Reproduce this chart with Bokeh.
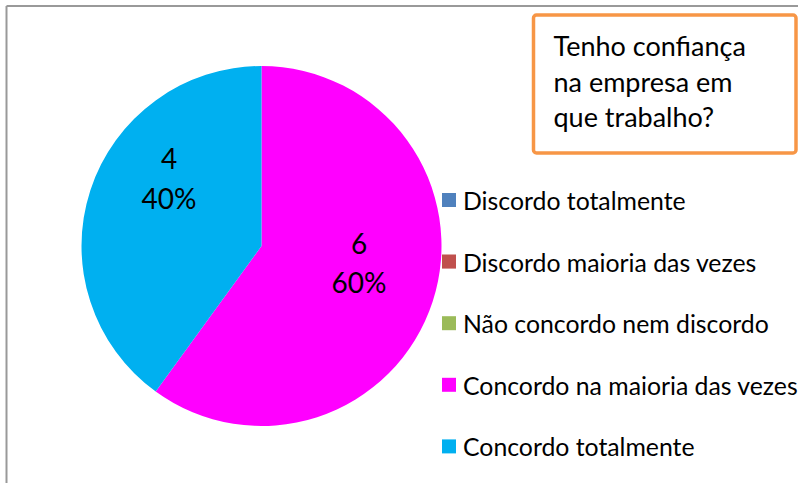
import numpy as np
from bokeh.plotting import figure
from bokeh.models import Range1d, ColumnDataSource
from bokeh.core.properties import value
from bokeh.embed import file_html
from bokeh.resources import INLINE

# ---- data ----
categories = ["Discordo totalmente", "Discordo maioria das vezes",
              "Não concordo nem discordo", "Concordo na maioria das vezes",
              "Concordo totalmente"]
counts = [0, 0, 0, 6, 4]
colors = ["#4F81BD", "#C0504D", "#9BBB59", "#FF00FF", "#00B0F0"]
title_lines = ["Tenho confiança", "na empresa em", "que trabalho?"]

FONT = value("Lato")
W, H = 798, 483


def Y(py):
    return H - py


p = figure(width=W, height=H, x_range=Range1d(0, W), y_range=Range1d(0, H),
           output_backend="svg", toolbar_location=None,
           x_axis_location=None, y_axis_location=None, min_border=0)
p.grid.visible = False
p.outline_line_color = None
p.background_fill_color = "white"
p.border_fill_color = "white"

# chart area border (left and top)
p.segment(x0=[6, 6], y0=[Y(5.5), Y(5.5)], x1=[6, W], y1=[Y(H), Y(5.5)],
          line_color="#999999", line_width=2)

# ---- pie ----
cx, cy, r = 261, Y(245.5), 180
total = sum(counts)
fr = np.array(counts, dtype=float) / total
cum = np.cumsum(fr)
end = np.pi / 2 - 2 * np.pi * cum
start = end + 2 * np.pi * fr
mask = fr > 0
src = ColumnDataSource(dict(start=start[mask], end=end[mask],
                            color=list(np.array(colors)[mask])))
p.wedge(x=cx, y=cy, radius=r, start_angle="start", end_angle="end",
        direction="clock", fill_color="color", line_color=None, source=src)

# data labels (placement per slice, in page pixels)
label_pos = {3: (358.5, 243, 281), 4: (168.5, 157.5, 197.5)}
lx, ly, lt = [], [], []
for i, (x, y1, y2) in label_pos.items():
    lx += [x, x]
    ly += [Y(y1), Y(y2)]
    lt += [str(counts[i]), f"{round(100 * counts[i] / total)}%"]
p.text(x=lx, y=ly, text=lt, text_font=FONT, text_font_size="28px",
       text_align="center", text_baseline="middle", text_color="black")

# ---- legend ----
sq = [199.5 + 61.6 * i for i in range(len(categories))]
p.rect(x=[448.5] * len(categories), y=[Y(s) for s in sq],
       width=14, height=14, fill_color=colors, line_color=None)
p.text(x=[462.5] * len(categories), y=[Y(s + 0.5) for s in sq], text=categories,
       text_font=FONT, text_font_size="24.8px", text_align="left",
       text_baseline="middle", text_color="black")

# ---- title box ----
p.rect(x=(533 + 795.5) / 2, y=Y((14.5 + 152.5) / 2), width=795.5 - 533,
       height=152.5 - 14.5, fill_color="white", line_color="#F79646",
       line_width=3.5, border_radius=3)
p.text(x=[553] * 3, y=[Y(45), Y(80.5), Y(116)], text=title_lines,
       text_font=FONT, text_font_size="27px", text_align="left",
       text_baseline="middle", text_color="black")

open("out.html", "w").write(file_html(p, INLINE))
